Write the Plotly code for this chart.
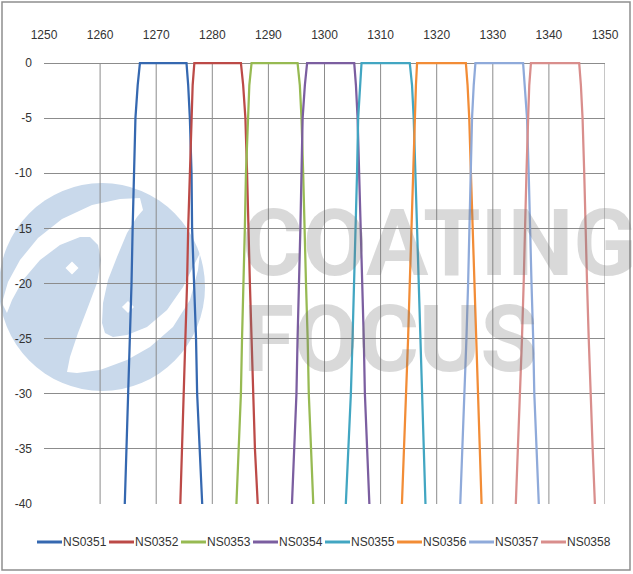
import plotly.graph_objects as go

# ---------------- data ----------------
series_names = ["NS0351", "NS0352", "NS0353", "NS0354", "NS0355", "NS0356", "NS0357", "NS0358"]
series_colors = ["#3568B0", "#BC4A47", "#97BA52", "#7B5EA0", "#42A6C2", "#F28C36", "#8FAADA", "#D98E8C"]

# attenuation levels (dB) along each curve: left edge going up, then right edge going down
levels_db = [-40, -35, -30, -25, -20, -15, -10, -5, -2, 0,
             0, -2, -5, -10, -15, -20, -25, -30, -35, -40]

wl_NS0351 = [1264.4, 1264.7, 1265.1, 1265.3, 1265.6, 1265.8, 1266.0, 1266.3, 1266.7, 1267.1,
             1275.4, 1275.7, 1276.0, 1276.3, 1276.4, 1276.8, 1277.1, 1277.3, 1277.7, 1278.2]
wl_NS0352 = [1274.3, 1274.6, 1275.0, 1275.2, 1275.5, 1275.7, 1276.0, 1276.2, 1276.5, 1276.8,
             1285.1, 1285.5, 1285.9, 1286.2, 1286.4, 1286.7, 1287.0, 1287.3, 1287.6, 1288.1]
wl_NS0353 = [1284.3, 1284.7, 1285.1, 1285.3, 1285.6, 1285.8, 1286.0, 1286.3, 1286.6, 1287.0,
             1295.2, 1295.6, 1295.9, 1296.2, 1296.4, 1296.7, 1297.0, 1297.2, 1297.6, 1298.0]
wl_NS0354 = [1294.2, 1294.6, 1295.0, 1295.2, 1295.5, 1295.7, 1295.9, 1296.1, 1296.5, 1296.9,
             1305.3, 1305.6, 1305.9, 1306.2, 1306.4, 1306.7, 1307.0, 1307.2, 1307.6, 1308.0]
wl_NS0355 = [1303.8, 1304.3, 1304.7, 1305.0, 1305.3, 1305.5, 1305.8, 1306.0, 1306.3, 1306.6,
             1315.2, 1315.6, 1315.9, 1316.2, 1316.4, 1316.7, 1317.0, 1317.3, 1317.6, 1318.0]
wl_NS0356 = [1313.8, 1314.2, 1314.6, 1314.9, 1315.2, 1315.5, 1315.8, 1316.0, 1316.3, 1316.5,
             1325.2, 1325.5, 1325.8, 1326.1, 1326.4, 1326.7, 1327.0, 1327.3, 1327.6, 1328.0]
wl_NS0357 = [1324.2, 1324.6, 1325.0, 1325.3, 1325.6, 1325.8, 1326.0, 1326.3, 1326.6, 1326.9,
             1335.4, 1335.7, 1336.1, 1336.4, 1336.6, 1336.9, 1337.2, 1337.4, 1337.8, 1338.2]
wl_NS0358 = [1334.1, 1334.5, 1334.9, 1335.2, 1335.5, 1335.7, 1336.0, 1336.3, 1336.5, 1336.8,
             1345.4, 1345.7, 1346.0, 1346.3, 1346.5, 1346.8, 1347.1, 1347.4, 1347.8, 1348.2]

series_wl = [wl_NS0351, wl_NS0352, wl_NS0353, wl_NS0354,
             wl_NS0355, wl_NS0356, wl_NS0357, wl_NS0358]

x_tick_vals = [1250, 1260, 1270, 1280, 1290, 1300, 1310, 1320, 1330, 1340, 1350]
x_grid_vals = [1260, 1270, 1280, 1290, 1300, 1310, 1320, 1330, 1340, 1350]
y_tick_vals = [0, -5, -10, -15, -20, -25, -30, -35, -40]
y_tick_text = ["0", "-5", "-10", "-15", "-20", "-25", "-30", "-35", "-40"]

watermark_lines = ["COATING", "FOCUS"]

# ---------------- layout geometry ----------------
W, H = 633, 574
ML, MR, MT, MB = 44, 28, 60, 70
PW, PH = W - ML - MR, H - MT - MB
TICK_FONT = "Liberation Sans, Arial, sans-serif"
TEXT_COL = "#333333"
GRID = "#8C8C8C"


def px(x):
    return (x - ML) / PW


def py(y):
    return (H - MB - y) / PH


def P(x, y):
    return f"{px(x):.4f},{py(y):.4f}"


fig = go.Figure()
for name, color, wl in zip(series_names, series_colors, series_wl):
    fig.add_trace(go.Scatter(x=wl, y=levels_db, mode="lines", name=name,
                             line=dict(color=color, width=2.25), hoverinfo="skip",
                             showlegend=False))

shapes = []
annotations = []

# ---- watermark logo (decorative, below grid) ----
LOGO = "#C9D9EB"
shapes.append(dict(type="circle", xref="paper", yref="paper", layer="below",
                   x0=px(-1), x1=px(205), y0=py(391), y1=py(183),
                   fillcolor=LOGO, line=dict(width=0)))
white_pts = [(2, 303), (8, 282), (20, 260), (38, 238), (62, 219), (92, 205), (120, 199), (140, 198),
             (143, 210), (137, 217), (127, 233), (117, 257), (108, 280), (103, 303), (102, 323),
             (105, 333), (113, 337), (127, 335), (147, 327), (167, 310), (183, 287), (193, 267),
             (200, 253), (198, 270), (190, 300), (173, 327), (150, 347), (127, 360), (100, 370),
             (77, 373), (67, 372), (70, 357), (78, 333), (88, 307), (97, 283), (101, 260),
             (98, 245), (90, 237), (80, 237), (60, 245), (40, 260), (23, 280), (12, 300), (7, 313)]
shapes.append(dict(type="path", xref="paper", yref="paper", layer="below",
                   path="M " + " L ".join(P(x, y) for x, y in white_pts) + " Z",
                   fillcolor="white", line=dict(width=0)))
for cx, cy, r in [(72, 268, 6.5), (128, 307, 6)]:
    d = [(cx, cy - r), (cx + r, cy), (cx, cy + r), (cx - r, cy)]
    shapes.append(dict(type="path", xref="paper", yref="paper", layer="below",
                       path="M " + " L ".join(P(x, y) for x, y in d) + " Z",
                       fillcolor="white", line=dict(width=0)))

# ---- vertical grid lines (none at 1250) ----
for gx in x_grid_vals:
    shapes.append(dict(type="line", xref="x", yref="y", layer="below",
                       x0=gx, x1=gx, y0=-40, y1=0, line=dict(color=GRID, width=1)))

# ---- chart border ----
shapes.append(dict(type="rect", xref="paper", yref="paper", layer="above",
                   x0=px(2), x1=px(630), y0=py(570), y1=py(2),
                   line=dict(color="#8E8E8E", width=1.5), fillcolor="rgba(0,0,0,0)"))

# ---- legend (one row, Excel style: short line then name) ----
LEG_X0, LEG_PITCH, LEG_LINE, LEG_Y = 37, 72, 25, 542
for i, (name, color) in enumerate(zip(series_names, series_colors)):
    x0 = LEG_X0 + LEG_PITCH * i
    shapes.append(dict(type="line", xref="paper", yref="paper", layer="above",
                       x0=px(x0), x1=px(x0 + LEG_LINE), y0=py(LEG_Y), y1=py(LEG_Y),
                       line=dict(color=color, width=3)))
    annotations.append(dict(text=name, xref="paper", yref="paper", x=px(x0 + LEG_LINE),
                            y=py(LEG_Y), xanchor="left", yanchor="middle", showarrow=False,
                            borderpad=0, font=dict(family=TICK_FONT, size=12, color=TEXT_COL)))

# ---- watermark text ----
for text, x0, yc in zip(watermark_lines, [240, 241], [243.5, 339.5]):
    annotations.append(dict(text=text, xref="paper", yref="paper", x=px(x0), y=py(yc),
                            xanchor="left", yanchor="middle", showarrow=False,
                            font=dict(family="Roboto", size=93, weight=700,
                                      color="rgba(120,120,120,0.28)")))

fig.update_layout(
    width=W, height=H,
    margin=dict(l=ML, r=MR, t=MT, b=MB, pad=0, autoexpand=False),
    paper_bgcolor="white", plot_bgcolor="white",
    shapes=shapes, annotations=annotations,
    showlegend=False,
    xaxis=dict(side="top", range=[1250, 1350], tickmode="array", tickvals=x_tick_vals,
               showgrid=False, zeroline=False, showline=False, ticks="", automargin=False,
               ticklabelstandoff=18,
               tickfont=dict(family=TICK_FONT, size=12, color=TEXT_COL)),
    yaxis=dict(range=[-40, 3 / 11.025], tickmode="array", tickvals=y_tick_vals,
               ticktext=y_tick_text, showgrid=True, gridcolor=GRID, gridwidth=1,
               zeroline=False, showline=False, ticks="", ticklabelstandoff=11, automargin=False,
               tickfont=dict(family=TICK_FONT, size=12, color=TEXT_COL)),
)

fig.write_html("out.html", config={"displayModeBar": False},
               post_script="document.body.style.margin='0px';")
